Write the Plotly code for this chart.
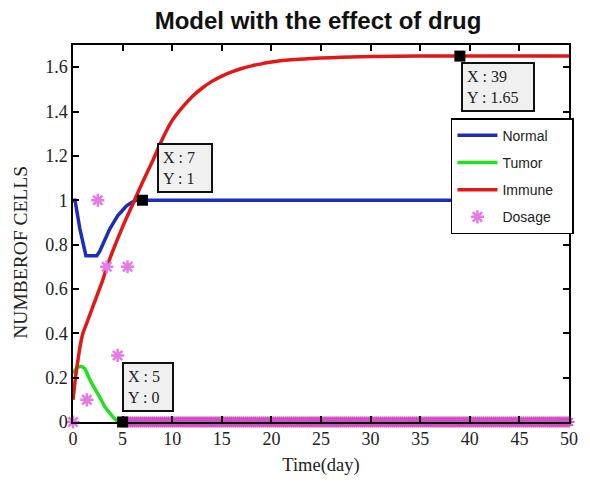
import plotly.graph_objects as go

# ---- data ----
normal_t = [0, 0.2, 0.7, 1.3, 2.4, 2.7, 3.0, 3.4, 3.7, 4.1, 4.5, 5.0, 5.4, 5.9, 6.4, 7, 10, 20, 30, 40, 50]
normal_y = [1.0, 1.0, 0.87, 0.75, 0.75, 0.77, 0.80, 0.84, 0.87, 0.90, 0.93, 0.955, 0.975, 0.99, 1.0,
            1.0, 1.0, 1.0, 1.0, 1.0, 1.0]

tumor_t = [0, 0.4, 0.8, 1.2, 1.6, 2.2, 2.6, 3.2, 3.9, 4.3, 4.6, 5, 10, 20, 30, 40, 50]
tumor_y = [0.22, 0.245, 0.25, 0.24, 0.2, 0.15, 0.12, 0.07, 0.03, 0.01, 0.0, 0.0, 0.0, 0.0, 0.0, 0.0, 0.0]

immune_t = [0, 0.25, 0.5, 0.75, 1, 1.5, 2, 2.5, 3, 3.5, 4, 5, 6, 7, 8, 9, 10, 11, 12, 13, 14, 15,
            16, 17, 18, 19, 20, 22, 24, 26, 28, 30, 35, 40, 50]
immune_y = [0.1, 0.2, 0.28, 0.35, 0.4, 0.46, 0.52, 0.58, 0.64, 0.71, 0.77, 0.88, 0.98, 1.08, 1.175,
            1.275, 1.36, 1.418, 1.467, 1.505, 1.536, 1.56, 1.579, 1.594, 1.606, 1.615, 1.623, 1.633,
            1.639, 1.643, 1.646, 1.648, 1.65, 1.65, 1.65]

dose_t = [0, 1.4, 2.5, 3.4, 4.5, 5.5]
dose_y = [0, 0.1, 1.0, 0.7, 0.3, 0.7]
# zero-dose days plotted along the axis
zero_dose_t = [5 + 0.2 * i for i in range(226)]
zero_dose_y = [0] * len(zero_dose_t)

tips_x = [5, 7, 39]
tips_y = [0, 1, 1.65]
tips_xtext = ["5", "7", "39"]
tips_ytext = ["0", "1", "1.65"]

x_ticks = [0, 5, 10, 15, 20, 25, 30, 35, 40, 45, 50]
y_ticks = [0, 0.2, 0.4, 0.6, 0.8, 1.0, 1.2, 1.4, 1.6]
y_ticktext = ["0", "0.2", "0.4", "0.6", "0.8", "1", "1.2", "1.4", "1.6"]

BLUE = "#1c2db8"
GREEN = "#22e022"
RED = "#e01818"
PINK = "#e47ae4"
NB = "\u00a0"

fig = go.Figure()
fig.add_trace(go.Scatter(x=normal_t, y=normal_y, mode="lines", name="Normal" + NB * 5,
                         line=dict(color=BLUE, width=3.5),
                         legendgroup="a"))
fig.add_trace(go.Scatter(x=tumor_t, y=tumor_y, mode="lines", name="Tumor",
                         line=dict(color=GREEN, width=3.5, shape="spline", smoothing=0.5),
                         legendgroup="b"))
fig.add_trace(go.Scatter(x=immune_t, y=immune_y, mode="lines", name="Immune",
                         line=dict(color=RED, width=3.5, shape="spline", smoothing=0.5),
                         legendgroup="c"))
fig.add_trace(go.Scatter(x=zero_dose_t, y=zero_dose_y, mode="markers", showlegend=False,
                         marker=dict(symbol="asterisk-open", size=9, color="#d050c4",
                                     line=dict(color="#d050c4", width=1.8)),
                         cliponaxis=False))
fig.add_trace(go.Scatter(x=dose_t, y=dose_y, mode="markers", name="Dosage",
                         marker=dict(symbol="asterisk-open", size=11, color=PINK,
                                     line=dict(color=PINK, width=2.5)),
                         legendgroup="d", cliponaxis=False))
fig.add_trace(go.Scatter(x=tips_x, y=tips_y, mode="markers", showlegend=False,
                         marker=dict(symbol="square", size=11, color="black"),
                         cliponaxis=False))

serif = "Liberation Serif, Times New Roman, serif"
anchors = [("left", "bottom", -1, 10, 40), ("left", "bottom", 15, 7, 44), ("left", "top", 1, -6, 62)]
for x, y, xt, yt, (xa, ya, xs, ys, w) in zip(tips_x, tips_y, tips_xtext, tips_ytext, anchors):
    fig.add_annotation(x=x, y=y, xref="x", yref="y", showarrow=False,
                       text=f"X : {xt}<br>Y : {yt}", align="left", width=w,
                       xanchor=xa, yanchor=ya, xshift=xs, yshift=ys,
                       font=dict(family=serif, size=16, color="#222"),
                       bgcolor="#f0f0f0", bordercolor="#111", borderwidth=2, borderpad=4)

# y-axis title placed as in the reference (slightly below the plot centre)
fig.add_annotation(text="NUMBEROF CELLS", xref="paper", yref="paper", x=-0.106, y=0.45,
                   xanchor="center", yanchor="middle", textangle=-90, showarrow=False,
                   font=dict(family=serif, size=19.5, color="#222"))

axis_common = dict(showline=True, linecolor="black", linewidth=1.5, mirror="ticks",
                   ticks="inside", ticklen=6, tickwidth=1.5, tickcolor="black",
                   showgrid=False, zeroline=False,
                   tickfont=dict(family=serif, size=18, color="#222"))

fig.update_layout(
    width=590, height=490,
    margin=dict(l=73, r=15, t=45, b=68),
    paper_bgcolor="white", plot_bgcolor="white",
    title=dict(text="<b>Model with the effect of drug</b>", x=0.539, xanchor="center",
               y=0.957, yanchor="middle",
               font=dict(family="Liberation Sans, Arial, sans-serif", size=24, color="#111")),
    xaxis=dict(range=[0, 50], tickvals=x_ticks, **axis_common,
               title=dict(text="Time(day)", font=dict(family=serif, size=18.5, color="#222"),
                          standoff=10)),
    yaxis=dict(range=[0, 1.7], tickvals=y_ticks, ticktext=y_ticktext, **axis_common),
    legend=dict(x=0.762, y=0.806, xanchor="left", yanchor="top",
                bgcolor="white", bordercolor="black", borderwidth=1.5,
                font=dict(family="Liberation Sans, Arial, sans-serif", size=14, color="#222"),
                tracegroupgap=6, traceorder="grouped", itemwidth=40),
    showlegend=True,
)

fig.write_html("out.html")
